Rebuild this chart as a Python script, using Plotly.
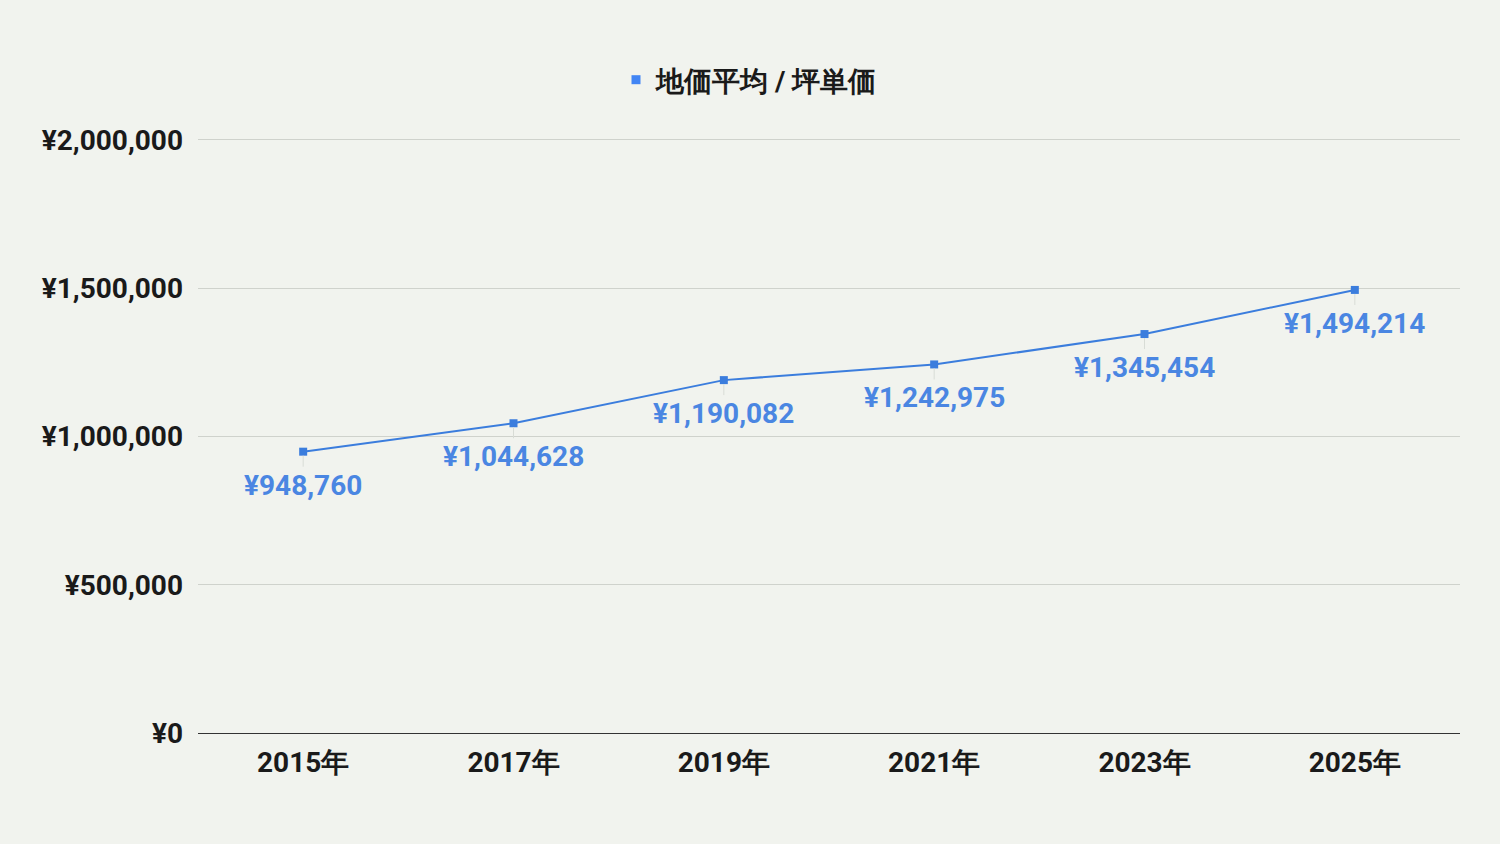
import plotly.graph_objects as go

years = ["2015年", "2017年", "2019年", "2021年", "2023年", "2025年"]
prices = [948760, 1044628, 1190082, 1242975, 1345454, 1494214]
series_name = "地価平均 / 坪単価"
tick_vals = [0, 500000, 1000000, 1500000, 2000000]
tick_text = ["¥0", "¥500,000", "¥1,000,000", "¥1,500,000", "¥2,000,000"]

BLUE = "#3b7ddd"
BG = "#f1f3ee"
FONT = "Roboto, Arial, sans-serif"

fig = go.Figure()
fig.add_trace(go.Scatter(
    x=years, y=prices, mode="lines+markers",
    line=dict(color=BLUE, width=2),
    marker=dict(symbol="square", size=8, color=BLUE),
    showlegend=False, hoverinfo="skip",
))
fig.add_trace(go.Scatter(
    x=[None], y=[None], mode="markers", name=series_name,
    marker=dict(symbol="square", size=9, color="#4285f4"),
))

for x, y in zip(years, prices):
    fig.add_annotation(
        x=x, y=y, text=f"¥{y:,}", showarrow=True, arrowhead=0,
        arrowwidth=1, arrowcolor="#d8dcd6", ax=0, ay=15, yanchor="top",
        font=dict(family=FONT, size=28, color="#4a86e2", weight="bold"),
        standoff=4,
    )

fig.update_layout(
    width=1500, height=844,
    paper_bgcolor=BG, plot_bgcolor=BG,
    margin=dict(l=198, r=40, t=137, b=111),
    font=dict(family=FONT, size=28, color="#1a1a1a", weight="bold"),
    legend=dict(orientation="h", x=0.5, xanchor="center", xref="container",
                y=1 - 80 / 844, yanchor="middle", yref="container",
                font=dict(size=28, weight="bold"),
                itemwidth=30, bgcolor="rgba(0,0,0,0)"),
    xaxis=dict(type="category", range=[-0.5, 5.5], showgrid=False, showline=False, ticks="",
               ticklabelstandoff=10, tickfont=dict(size=28, weight="bold")),
    yaxis=dict(range=[0, 2010000], tickvals=tick_vals, ticktext=tick_text,
               showgrid=True, gridcolor="#cfd2cc", gridwidth=1,
               zeroline=True, zerolinecolor="#333333", zerolinewidth=1,
               ticks="", ticklabelstandoff=14,
               tickfont=dict(size=28, weight="bold")),
)

fig.write_html("out.html")
